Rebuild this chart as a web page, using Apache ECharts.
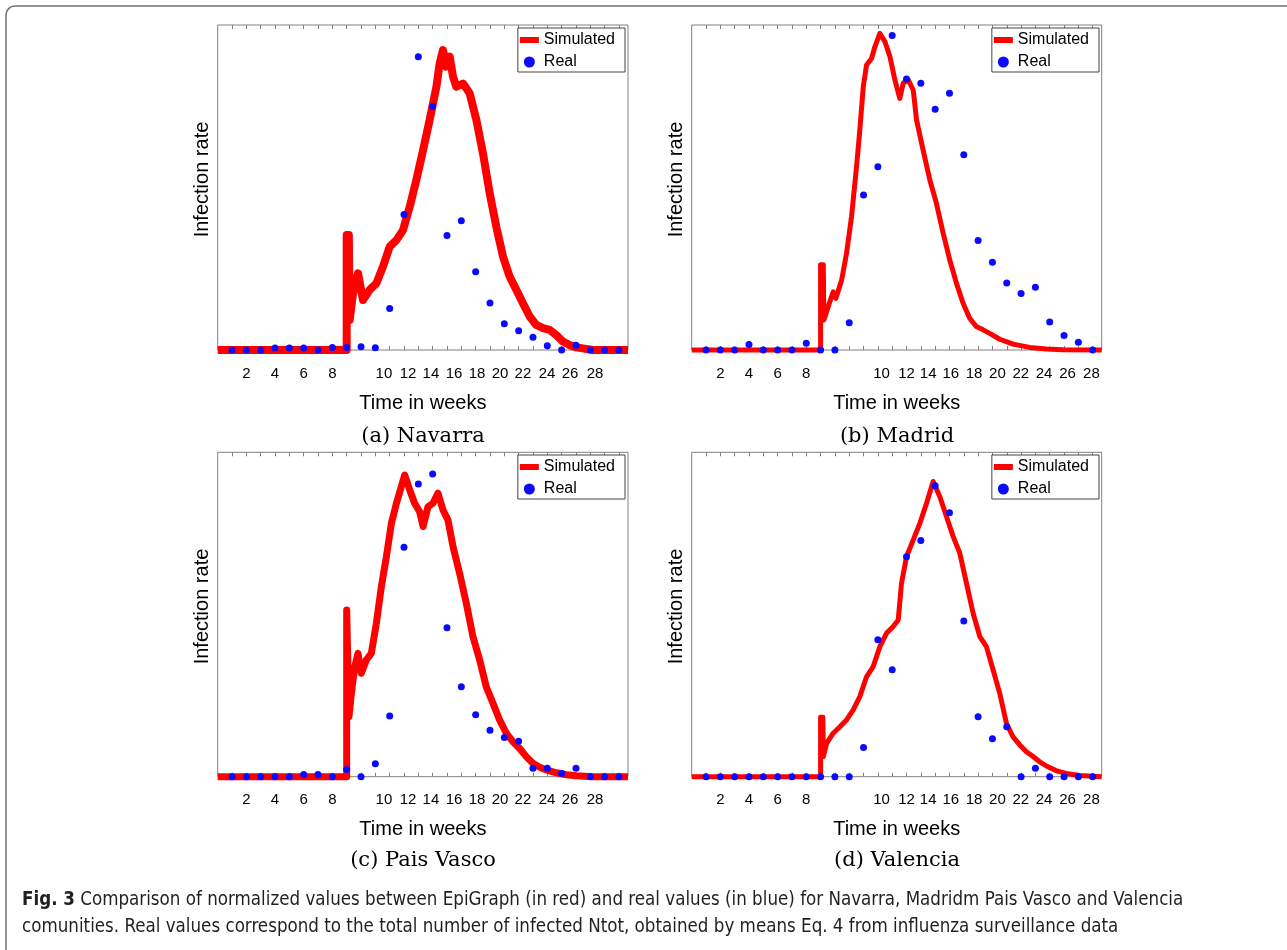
<!DOCTYPE html>
<html><head><meta charset="utf-8">
<script src="https://cdn.jsdelivr.net/npm/echarts@6/dist/echarts.min.js"></script>
<style>html,body{margin:0;padding:0;background:#fff}#c{width:1287px;height:950px}</style>
</head><body><div id="c"></div>
<script>
// ---------------- DATA ----------------
const weeks = [1,2,3,4,5,6,7,8,9,10,11,12,13,14,15,16,17,18,19,20,21,22,23,24,25,26,27,28];
const xTickLabels = ['2','4','6','8','10','12','14','16','18','20','22','24','26','28'];
const xTickPosLeft  = [2,4,6,8,11.6,13.28,14.88,16.49,18.1,19.7,21.3,22.98,24.59,26.33];
const xTickPosRight = [2,4,6,8,13.26,15.0,16.51,18.09,19.72,21.35,22.98,24.6,26.24,27.91];

const realNavarra   = [0,0,0,0.006,0.006,0.006,0,0.008,0.008,0.010,0.007,0.128,0.417,0.902,0.749,0.352,0.398,0.241,0.145,0.081,0.059,0.039,0.013,0,0.015,0,0,0];
const realMadrid    = [0,0,0,0.017,0,0,0,0.021,0,0,0.084,0.477,0.564,0.968,0.834,0.821,0.741,0.790,0.601,0.337,0.270,0.206,0.174,0.193,0.086,0.045,0.024,0];
const realPaisVasco = [0,0,0,0,0,0.007,0.007,0,0.022,0,0.040,0.187,0.707,0.902,0.933,0.459,0.277,0.191,0.143,0.121,0.109,0.026,0.026,0.010,0.026,0,0,0];
const realValencia  = [0,0,0,0,0,0,0,0,0,0,0,0.090,0.422,0.330,0.678,0.728,0.897,0.814,0.480,0.185,0.117,0.154,0,0.026,0,0,0,0];

const simNavarra = [[0,0],[9.0,0],[9.0,0.354],[9.15,0.354],[9.21,0.092],[9.44,0.174],[9.79,0.236],[10.14,0.154],[10.6,0.185],[11.07,0.205],[11.53,0.256],[12.0,0.318],[12.47,0.338],[12.93,0.369],[13.4,0.441],[13.86,0.523],[14.33,0.615],[14.79,0.708],[15.26,0.81],[15.49,0.882],[15.72,0.923],[15.95,0.872],[16.19,0.903],[16.42,0.841],[16.65,0.81],[17.12,0.82],[17.58,0.79],[18.05,0.708],[18.51,0.605],[18.98,0.482],[19.44,0.379],[19.91,0.287],[20.37,0.226],[20.84,0.185],[21.3,0.144],[21.77,0.103],[22.23,0.077],[22.7,0.067],[23.16,0.062],[23.63,0.046],[24.09,0.026],[24.56,0.015],[25.02,0.008],[26.19,0],[28.63,0]];
const simMadrid = [[0,0],[9.0,0],[9.0,0.262],[9.19,0.262],[9.23,0.092],[9.53,0.133],[9.88,0.179],[10.07,0.159],[10.47,0.215],[10.81,0.297],[11.16,0.41],[11.51,0.564],[11.74,0.677],[11.98,0.81],[12.21,0.877],[12.56,0.897],[12.79,0.933],[13.14,0.974],[13.49,0.949],[13.84,0.903],[14.19,0.831],[14.53,0.774],[14.77,0.821],[15.12,0.831],[15.47,0.8],[15.7,0.708],[16.16,0.615],[16.63,0.523],[17.09,0.451],[17.56,0.359],[18.02,0.277],[18.49,0.205],[18.95,0.144],[19.42,0.097],[19.88,0.072],[20.35,0.062],[20.81,0.051],[21.51,0.033],[22.44,0.018],[23.6,0.008],[24.77,0.003],[25.93,0.001],[28.63,0]];
const simPaisVasco = [[0,0],[9.0,0],[9.0,0.514],[9.13,0.514],[9.16,0.185],[9.33,0.257],[9.56,0.339],[9.79,0.38],[10.02,0.319],[10.37,0.36],[10.72,0.38],[11.07,0.473],[11.42,0.586],[11.77,0.678],[12.12,0.781],[12.47,0.843],[12.81,0.894],[13.05,0.93],[13.4,0.884],[13.74,0.843],[14.09,0.817],[14.33,0.771],[14.67,0.832],[15.02,0.843],[15.37,0.874],[15.72,0.822],[16.07,0.791],[16.42,0.709],[16.88,0.627],[17.35,0.534],[17.81,0.432],[18.28,0.36],[18.74,0.277],[19.21,0.226],[19.67,0.175],[20.14,0.134],[20.6,0.108],[21.07,0.087],[21.53,0.062],[22.0,0.041],[22.47,0.029],[22.93,0.021],[23.63,0.012],[24.33,0.006],[25.02,0.003],[26.19,0],[28.63,0]];
const simValencia = [[0,0],[9.0,0],[9.0,0.183],[9.16,0.183],[9.19,0.062],[9.42,0.103],[9.88,0.134],[10.35,0.154],[10.81,0.175],[11.28,0.206],[11.74,0.247],[12.21,0.308],[12.67,0.339],[13.14,0.401],[13.6,0.442],[14.07,0.463],[14.42,0.483],[14.65,0.596],[15.0,0.678],[15.47,0.73],[15.93,0.781],[16.4,0.843],[16.86,0.91],[17.33,0.863],[17.79,0.802],[18.26,0.74],[18.72,0.689],[19.19,0.596],[19.65,0.504],[20.12,0.432],[20.58,0.401],[21.05,0.329],[21.51,0.257],[21.98,0.164],[22.44,0.123],[22.91,0.098],[23.37,0.077],[23.84,0.062],[24.3,0.046],[24.77,0.033],[25.47,0.018],[26.16,0.010],[27.09,0.004],[28.63,0]];

const panelTitles = ['(a) Navarra','(b) Madrid','(c) Pais Vasco','(d) Valencia'];
const captionBold = 'Fig. 3';
const captionLine1 = 'Comparison of normalized values between EpiGraph (in red) and real values (in blue) for Navarra, Madridm Pais Vasco and Valencia';
const captionLine2 = 'comunities. Real values correspond to the total number of infected Ntot, obtained by means Eq. 4 from influenza surveillance data';

// ---------------- LAYOUT ----------------
const XMAX = 28.63;
const SANS = '"Liberation Sans", Arial, sans-serif';
const CAPF = '"DejaVu Sans Condensed", "Liberation Sans Narrow", sans-serif';
const panels = [
  {left:217.7, top:25,    width:410.3, height:325,   sim:simNavarra,   real:realNavarra,   pos:xTickPosLeft,  lw:8, lgRight:662, lgTop:28,  tx:423, ty:437},
  {left:691.7, top:25,    width:410,   height:325,   sim:simMadrid,    real:realMadrid,    pos:xTickPosRight, lw:5, lgRight:188, lgTop:28,  tx:897, ty:437},
  {left:217.7, top:452.3, width:410.3, height:324.4, sim:simPaisVasco, real:realPaisVasco, pos:xTickPosLeft,  lw:7, lgRight:662, lgTop:455, tx:423, ty:861},
  {left:691.7, top:452.3, width:410,   height:324.4, sim:simValencia,  real:realValencia,  pos:xTickPosRight, lw:5, lgRight:188, lgTop:455, tx:897, ty:861}
];

const grid = [], xAxis = [], yAxis = [], series = [], legend = [], graphic = [];
panels.forEach((p, i) => {
  grid.push({left:p.left, top:p.top, width:p.width, height:p.height, show:true, borderColor:'#808080', borderWidth:1, backgroundColor:'rgba(0,0,0,0)'});
  xAxis.push({
    gridIndex:i, type:'value', min:0, max:XMAX, position:'bottom',
    axisLine:{show:false}, splitLine:{show:false},
    axisTick:{show:true, inside:true, length:4, customValues:weeks, lineStyle:{color:'#808080'}},
    axisLabel:{show:true, customValues:p.pos, margin:16, color:'#000', fontSize:15, fontFamily:SANS,
      formatter:(v) => { const k = p.pos.findIndex(q => Math.abs(q - v) < 1e-6); return k >= 0 ? xTickLabels[k] : ''; }},
    name:'Time in weeks', nameLocation:'middle', nameGap:43,
    nameTextStyle:{fontSize:20, color:'#000', fontFamily:SANS}
  });
  xAxis.push({
    gridIndex:i, type:'value', min:0, max:XMAX, position:'top',
    axisLine:{show:false}, splitLine:{show:false}, axisLabel:{show:false},
    axisTick:{show:true, inside:true, length:4, customValues:weeks, lineStyle:{color:'#808080'}}
  });
  yAxis.push({
    gridIndex:i, type:'value', min:0, max:1,
    axisLine:{show:false}, axisTick:{show:false}, axisLabel:{show:false}, splitLine:{show:false},
    name:'Infection rate', nameLocation:'middle', nameGap:5,
    nameTextStyle:{fontSize:20, color:'#000', fontFamily:SANS, padding:[0,0,0,16]}
  });
  series.push({
    type:'line', name:'Simulated', xAxisIndex:2*i, yAxisIndex:i, data:p.sim,
    symbol:'none', showSymbol:false, clip:false, silent:true, z:2,
    lineStyle:{color:'#ff0000', width:p.lw, join:'round'}, itemStyle:{color:'#ff0000'}
  });
  series.push({
    type:'scatter', name:'Real', xAxisIndex:2*i, yAxisIndex:i,
    data:weeks.map((w, k) => [w, p.real[k]]),
    symbol:'circle', symbolSize:7, clip:false, silent:true, z:3,
    itemStyle:{color:'#0a0aff', opacity:1}
  });
  legend.push({
    orient:'vertical', right:p.lgRight, top:p.lgTop, selectedMode:false,
    data:[{name:'Simulated', icon:'path://M0,0H19V6H0Z'}, {name:'Real', icon:'circle'}],
    itemWidth:19, itemHeight:11, itemGap:6, padding:[4,10,2,2],
    borderColor:'#444', borderWidth:1, backgroundColor:'#fff',
    textStyle:{fontSize:16, color:'#000', fontFamily:SANS}
  });
  graphic.push({type:'text', x:p.tx, y:p.ty, silent:true,
    style:{text:panelTitles[i], fill:'#000', fontSize:21, fontFamily:'"DejaVu Serif", serif', align:'center', verticalAlign:'middle'}});
});

graphic.push({type:'rect', silent:true, z:-1, shape:{x:6, y:6, width:1330, height:1000, r:9},
  style:{fill:null, stroke:'#707070', lineWidth:1.5}});
graphic.push({type:'text', x:22, y:900, silent:true,
  style:{text:'{b|' + captionBold + '} ' + captionLine1, fill:'#231f20', fontSize:18.6,
    fontFamily:CAPF, verticalAlign:'middle',
    rich:{b:{fontWeight:'bold', fontSize:18.6, fontFamily:CAPF, fill:'#231f20'}}}});
graphic.push({type:'text', x:22, y:927, silent:true,
  style:{text:captionLine2, fill:'#231f20', fontSize:18.6, fontFamily:CAPF, verticalAlign:'middle'}});

const chart = echarts.init(document.getElementById('c'), null, {renderer:'canvas'});
chart.setOption({animation:false, backgroundColor:'#fff', grid, xAxis, yAxis, series, legend, graphic});
</script></body></html>
